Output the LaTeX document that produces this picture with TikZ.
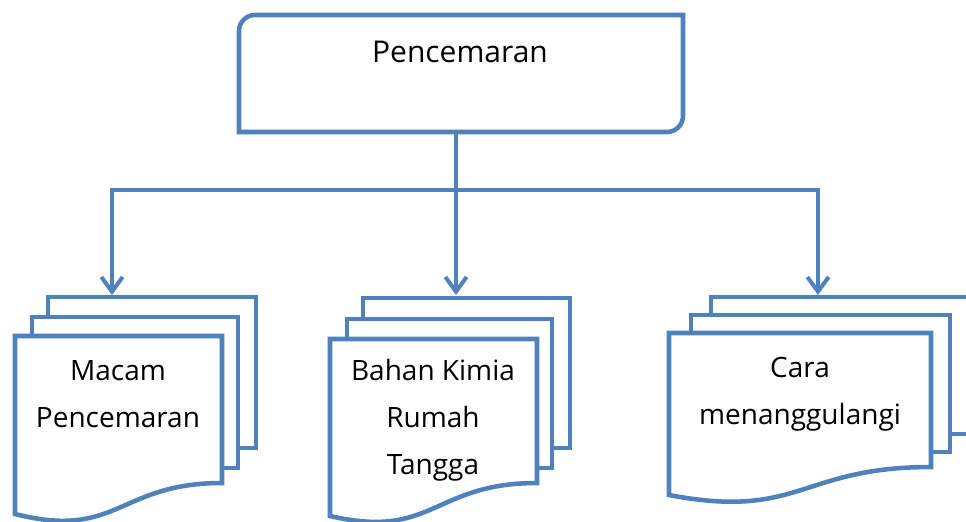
\documentclass[tikz,border=0pt]{standalone}
\usepackage{fontspec}
\setmainfont{Open Sans}
\usetikzlibrary{arrows.meta}
\definecolor{wordblue}{RGB}{79,129,189}
\begin{document}
\begin{tikzpicture}[x=0.75pt,y=-0.75pt,
  shape line/.style={draw=wordblue,line width=3.4pt,fill=white,line join=miter},
  conn/.style={draw=wordblue,line width=3pt},
  arr/.style={conn,-{Straight Barb[length=11pt,width=16pt,line width=3pt]}},
  lbl/.style={font=\fontsize{21}{35}\selectfont,align=center,inner sep=0pt,text=black,anchor=base}]
\useasboundingbox (0,0) rectangle (966,521);
\clip (0,0) rectangle (966,521);
\fill[white] (0,0) rectangle (966,521);
% top box
\draw[shape line] (239,132) -- (239,31) .. controls (239,22.2) and (246.2,15) .. (255,15)
  -- (683,15) -- (683,116) .. controls (683,124.8) and (675.8,132) .. (667,132) -- cycle;
\node[lbl,font=\fontsize{22.5}{35}\selectfont] (ttl) at (460,62) {Pencemaran};
\coordinate (topout) at (456,132);
\coordinate (hub) at (456,190);
\coordinate (in1) at (112,295);
\coordinate (in2) at (456,295);
\coordinate (in3) at (818,295);
% doc 1
\draw[shape line] (48,297) rectangle (256,448);
\draw[shape line] (32,317) rectangle (238,468);
\draw[shape line] (15,336) -- (222,336) -- (222,483) .. controls (118,483) and (118,540) .. (15,514) -- cycle;
\node[lbl] (t1) at (118,427) {Macam\\Pencemaran};
% doc 2
\draw[shape line] (363,298) rectangle (570,448);
\draw[shape line] (347,319) rectangle (552,468);
\draw[shape line] (330,339) -- (537,339) -- (537,483) .. controls (433,483) and (433,540) .. (330,516) -- cycle;
\node[lbl] (t2) at (433,474) {Bahan Kimia\\Rumah\\Tangga};
% doc 3
\draw[shape line] (711,297) rectangle (1010,434);
\draw[shape line] (691,315) rectangle (950,452);
\draw[shape line] (669,333) -- (931,333) -- (931,467) .. controls (800,467) and (800,520) .. (669,495) -- cycle;
\node[lbl] (t3) at (800,424) {Cara\\menanggulangi};
% connectors
\draw[conn] (topout) -- (hub);
\draw[arr] (hub) -| (in1);
\draw[arr] (hub) -- (in2);
\draw[arr] (hub) -| (in3);
\end{tikzpicture}
\end{document}
